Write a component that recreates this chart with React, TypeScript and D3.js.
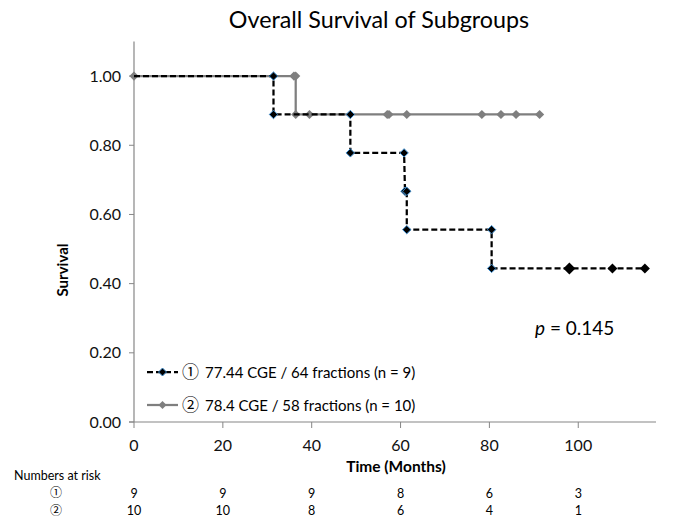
import React from "react";
import * as d3 from "d3";

const s1Time = [0, 31.4, 31.4, 48.7, 48.7, 60.8, 61.0, 61.4, 61.4, 80.5, 80.5, 98, 107.7, 115];
const s1Surv = [1, 1, 0.889, 0.889, 0.778, 0.778, 0.667, 0.667, 0.556, 0.556, 0.444, 0.444, 0.444, 0.444];
const s1Marker = [0, 1, 1, 1, 1, 1, 1, 1, 1, 1, 1, 3, 2, 2]; // 0 none, 1 event (blue outline), 2 censored, 3 big censored

const s2Time = [0, 36.0, 36.4, 36.4, 39.5, 57.0, 57.4, 61.4, 78.3, 82.6, 86.0, 91.3];
const s2Surv = [1, 1, 1, 0.889, 0.889, 0.889, 0.889, 0.889, 0.889, 0.889, 0.889, 0.889];

const xTicks = [0, 20, 40, 60, 80, 100];
const yTicks = [0, 0.2, 0.4, 0.6, 0.8, 1.0];

const legendLabels = ["77.44 CGE / 64 fractions (n = 9)", "78.4 CGE / 58 fractions (n = 10)"];
const groupSymbols = ["①", "②"];
const atRisk1 = [9, 9, 9, 8, 6, 3];
const atRisk2 = [10, 10, 8, 6, 4, 1];

const title = "Overall Survival of Subgroups";
const pText = "0.145";

const FONT = "Lato, 'Open Sans', sans-serif";
const CJK = "'Noto Sans CJK JP', 'DejaVu Sans', sans-serif";
const AXIS = "#868686";

function diamond(cx: number, cy: number, r: number) {
  return `M${cx},${cy - r}L${cx + r},${cy}L${cx},${cy + r}L${cx - r},${cy}Z`;
}

export default function App() {
  const x = d3.scaleLinear().domain([0, 117.5]).range([134, 656]);
  const y = d3.scaleLinear().domain([0, 1.1]).range([422, 41.5]);

  const s1 = s1Time.map((t, i) => [t, s1Surv[i]] as [number, number]);
  const s2 = s2Time.map((t, i) => [t, s2Surv[i]] as [number, number]);
  const line = d3.line<[number, number]>().x((d) => x(d[0])).y((d) => y(d[1]));

  return (
    <svg width={678} height={518} style={{ position: "absolute", left: 0, top: 0, background: "#fff" }} fontFamily={FONT}>
      <rect width={678} height={518} fill="#fff" />
      <text x={379} y={28} textAnchor="middle" fontSize={23.3} fill="#000">{title}</text>

      {/* axes */}
      <line x1={x(0)} x2={x(0)} y1={y(1.1)} y2={y(0)} stroke={AXIS} strokeWidth={1.2} />
      <line x1={x(0) - 5} x2={x(117.5)} y1={y(0)} y2={y(0)} stroke={AXIS} strokeWidth={1.2} />
      {yTicks.map((t) => (
        <g key={"y" + t}>
          <line x1={x(0) - 5} x2={x(0)} y1={y(t)} y2={y(t)} stroke={AXIS} strokeWidth={1} />
          <text x={121} y={y(t) + 5.5} textAnchor="end" fontSize={16} fill="#111">{t.toFixed(2)}</text>
        </g>
      ))}
      {xTicks.map((t) => (
        <g key={"x" + t}>
          <line x1={x(t)} x2={x(t)} y1={y(0)} y2={y(0) + 6} stroke={AXIS} strokeWidth={1} />
          <text x={x(t)} y={451} textAnchor="middle" fontSize={16} fill="#111">{t}</text>
        </g>
      ))}
      <text transform={`translate(68,270) rotate(-90)`} textAnchor="middle" fontSize={15} fontWeight="bold" fill="#000">Survival</text>
      <text x={396} y={472} textAnchor="middle" fontSize={15.5} fontWeight="bold" fill="#000">Time (Months)</text>

      {/* series 2 gray */}
      <path d={line(s2) || ""} fill="none" stroke="#7f7f7f" strokeWidth={2.25} />
      {s2.map((d, i) => (
        <path key={"g" + i} d={diamond(x(d[0]), y(d[1]), 4.6)} fill="#7f7f7f" />
      ))}

      {/* series 1 black dashed */}
      <path d={line(s1) || ""} fill="none" stroke="#000" strokeWidth={2.25} strokeDasharray="6,3" />
      {s1.map((d, i) => {
        const m = s1Marker[i];
        if (m === 0) return null;
        if (m === 1)
          return <path key={"b" + i} d={diamond(x(d[0]), y(d[1]), 4.2)} fill="#000" stroke="#3e8ed0" strokeWidth={1} />;
        return <path key={"b" + i} d={diamond(x(d[0]), y(d[1]), m === 3 ? 6 : 5)} fill="#000" />;
      })}

      {/* p value */}
      <text x={535} y={335} fontSize={19} fill="#000">
        <tspan fontStyle="italic">p</tspan> = {pText}
      </text>

      {/* legend */}
      <g>
        <line x1={147} x2={178} y1={372} y2={372} stroke="#000" strokeWidth={2.25} strokeDasharray="6,3" />
        <path d={diamond(162.5, 372, 4)} fill="#000" stroke="#3e8ed0" strokeWidth={1} />
        <text x={182} y={378} fontSize={17} fontFamily={CJK} fill="#000">{groupSymbols[0]}</text>
        <text x={205} y={377.5} fontSize={15} fill="#000">{legendLabels[0]}</text>
        <line x1={147} x2={178} y1={405} y2={405} stroke="#7f7f7f" strokeWidth={2.25} />
        <path d={diamond(162.5, 405, 4)} fill="#7f7f7f" />
        <text x={182} y={411} fontSize={17} fontFamily={CJK} fill="#000">{groupSymbols[1]}</text>
        <text x={205} y={410.5} fontSize={15} fill="#000">{legendLabels[1]}</text>
      </g>

      {/* numbers at risk */}
      <text x={14} y={480} fontSize={12.5} fill="#000">Numbers at risk</text>
      <text x={56} y={497} textAnchor="middle" fontSize={12} fontFamily={CJK} fill="#000">{groupSymbols[0]}</text>
      <text x={56} y={515} textAnchor="middle" fontSize={12} fontFamily={CJK} fill="#000">{groupSymbols[1]}</text>
      {xTicks.map((t, i) => (
        <g key={"r" + t}>
          <text x={x(t)} y={498} textAnchor="middle" fontSize={12.5} fill="#000">{atRisk1[i]}</text>
          <text x={x(t)} y={515} textAnchor="middle" fontSize={12.5} fill="#000">{atRisk2[i]}</text>
        </g>
      ))}
    </svg>
  );
}
